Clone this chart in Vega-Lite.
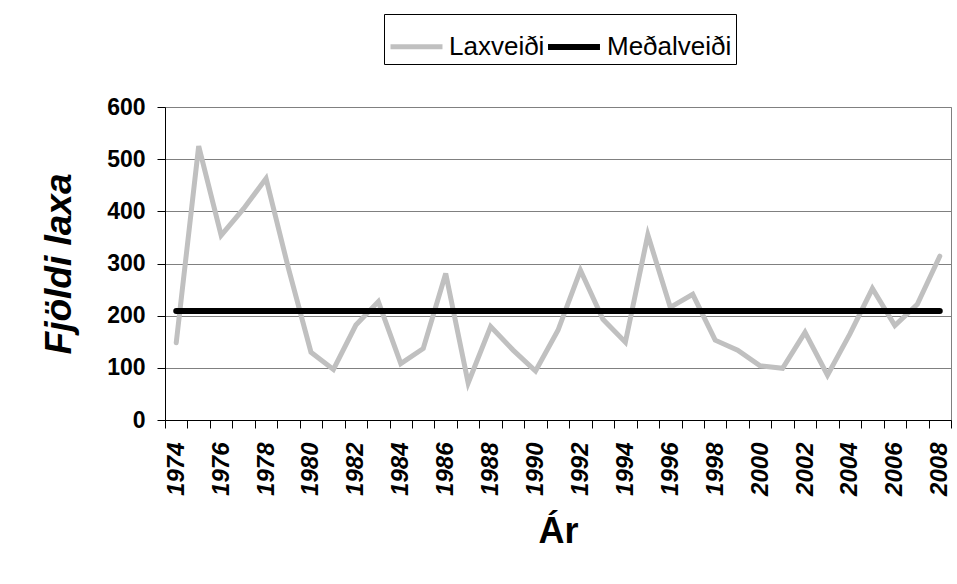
{
  "$schema": "https://vega.github.io/schema/vega-lite/v6.json",
  "width": 786,
  "height": 313,
  "autosize": "none",
  "padding": {"left": 165, "top": 107, "right": 6, "bottom": 164},
  "background": "white",
  "config": {
    "font": "Liberation Sans",
    "view": {"stroke": "#808080", "strokeWidth": 1}
  },
  "data": {
    "values": [
      {"year": 1974, "series": "Laxveiði", "value": 148},
      {"year": 1975, "series": "Laxveiði", "value": 525},
      {"year": 1976, "series": "Laxveiði", "value": 354},
      {"year": 1977, "series": "Laxveiði", "value": 405},
      {"year": 1978, "series": "Laxveiði", "value": 463},
      {"year": 1979, "series": "Laxveiði", "value": 290},
      {"year": 1980, "series": "Laxveiði", "value": 130},
      {"year": 1981, "series": "Laxveiði", "value": 97},
      {"year": 1982, "series": "Laxveiði", "value": 182},
      {"year": 1983, "series": "Laxveiði", "value": 227},
      {"year": 1984, "series": "Laxveiði", "value": 108},
      {"year": 1985, "series": "Laxveiði", "value": 137},
      {"year": 1986, "series": "Laxveiði", "value": 281},
      {"year": 1987, "series": "Laxveiði", "value": 71},
      {"year": 1988, "series": "Laxveiði", "value": 179},
      {"year": 1989, "series": "Laxveiði", "value": 134},
      {"year": 1990, "series": "Laxveiði", "value": 94},
      {"year": 1991, "series": "Laxveiði", "value": 172},
      {"year": 1992, "series": "Laxveiði", "value": 287},
      {"year": 1993, "series": "Laxveiði", "value": 193},
      {"year": 1994, "series": "Laxveiði", "value": 149},
      {"year": 1995, "series": "Laxveiði", "value": 355},
      {"year": 1996, "series": "Laxveiði", "value": 216},
      {"year": 1997, "series": "Laxveiði", "value": 241},
      {"year": 1998, "series": "Laxveiði", "value": 153},
      {"year": 1999, "series": "Laxveiði", "value": 134},
      {"year": 2000, "series": "Laxveiði", "value": 104},
      {"year": 2001, "series": "Laxveiði", "value": 99},
      {"year": 2002, "series": "Laxveiði", "value": 168},
      {"year": 2003, "series": "Laxveiði", "value": 86},
      {"year": 2004, "series": "Laxveiði", "value": 165},
      {"year": 2005, "series": "Laxveiði", "value": 252},
      {"year": 2006, "series": "Laxveiði", "value": 181},
      {"year": 2007, "series": "Laxveiði", "value": 222},
      {"year": 2008, "series": "Laxveiði", "value": 314},
      {"year": 1974, "series": "Meðalveiði", "value": 209},
      {"year": 1975, "series": "Meðalveiði", "value": 209},
      {"year": 1976, "series": "Meðalveiði", "value": 209},
      {"year": 1977, "series": "Meðalveiði", "value": 209},
      {"year": 1978, "series": "Meðalveiði", "value": 209},
      {"year": 1979, "series": "Meðalveiði", "value": 209},
      {"year": 1980, "series": "Meðalveiði", "value": 209},
      {"year": 1981, "series": "Meðalveiði", "value": 209},
      {"year": 1982, "series": "Meðalveiði", "value": 209},
      {"year": 1983, "series": "Meðalveiði", "value": 209},
      {"year": 1984, "series": "Meðalveiði", "value": 209},
      {"year": 1985, "series": "Meðalveiði", "value": 209},
      {"year": 1986, "series": "Meðalveiði", "value": 209},
      {"year": 1987, "series": "Meðalveiði", "value": 209},
      {"year": 1988, "series": "Meðalveiði", "value": 209},
      {"year": 1989, "series": "Meðalveiði", "value": 209},
      {"year": 1990, "series": "Meðalveiði", "value": 209},
      {"year": 1991, "series": "Meðalveiði", "value": 209},
      {"year": 1992, "series": "Meðalveiði", "value": 209},
      {"year": 1993, "series": "Meðalveiði", "value": 209},
      {"year": 1994, "series": "Meðalveiði", "value": 209},
      {"year": 1995, "series": "Meðalveiði", "value": 209},
      {"year": 1996, "series": "Meðalveiði", "value": 209},
      {"year": 1997, "series": "Meðalveiði", "value": 209},
      {"year": 1998, "series": "Meðalveiði", "value": 209},
      {"year": 1999, "series": "Meðalveiði", "value": 209},
      {"year": 2000, "series": "Meðalveiði", "value": 209},
      {"year": 2001, "series": "Meðalveiði", "value": 209},
      {"year": 2002, "series": "Meðalveiði", "value": 209},
      {"year": 2003, "series": "Meðalveiði", "value": 209},
      {"year": 2004, "series": "Meðalveiði", "value": 209},
      {"year": 2005, "series": "Meðalveiði", "value": 209},
      {"year": 2006, "series": "Meðalveiði", "value": 209},
      {"year": 2007, "series": "Meðalveiði", "value": 209},
      {"year": 2008, "series": "Meðalveiði", "value": 209}
    ]
  },
  "mark": {"type": "line", "strokeCap": "round", "strokeJoin": "miter", "clip": false},
  "encoding": {
    "x": {
      "field": "year",
      "type": "quantitative",
      "scale": {"domain": [1973.5, 2008.5], "nice": false, "zero": false},
      "axis": {
        "title": "Ár",
        "titleFont": "Liberation Sans",
        "titleFontSize": 36,
        "titleFontWeight": "bold",
        "titleColor": "black",
        "titlePadding": 19,
        "values": [1973.5, 1974.5, 1975.5, 1976.5, 1977.5, 1978.5, 1979.5, 1980.5, 1981.5, 1982.5, 1983.5, 1984.5, 1985.5, 1986.5, 1987.5, 1988.5, 1989.5, 1990.5, 1991.5, 1992.5, 1993.5, 1994.5, 1995.5, 1996.5, 1997.5, 1998.5, 1999.5, 2000.5, 2001.5, 2002.5, 2003.5, 2004.5, 2005.5, 2006.5, 2007.5, 2008.5],
        "labelExpr": "(datum.value + 0.5) % 2 == 0 ? format(datum.value + 0.5, 'd') : ''",
        "labelOffset": 11.2,
        "labelAngle": -90,
        "labelAlign": "right",
        "labelBaseline": "middle",
        "labelFontSize": 24,
        "labelFontWeight": "bold",
        "labelFontStyle": "italic",
        "labelColor": "black",
        "labelPadding": 14,
        "labelOverlap": false,
        "labelFlush": false,
        "labelBound": false,
        "tickSize": 8,
        "tickColor": "black",
        "domainColor": "black",
        "grid": false
      }
    },
    "y": {
      "field": "value",
      "type": "quantitative",
      "scale": {"domain": [0, 600], "nice": false},
      "axis": {
        "title": "Fjöldi laxa",
        "titleFontSize": 37,
        "titleFontWeight": "bold",
        "titleFontStyle": "italic",
        "titleColor": "black",
        "titlePadding": 28,
        "values": [0, 100, 200, 300, 400, 500, 600],
        "labelFontSize": 23,
        "labelFontWeight": "bold",
        "labelColor": "black",
        "labelPadding": 12,
        "tickSize": 8,
        "tickColor": "black",
        "domainColor": "black",
        "grid": true,
        "gridColor": "#808080",
        "gridWidth": 1,
        "gridOpacity": 1
      }
    },
    "color": {
      "field": "series",
      "type": "nominal",
      "scale": {"domain": ["Laxveiði", "Meðalveiði"], "range": ["#c0c0c0", "#000000"]},
      "legend": {
        "title": null,
        "orient": "none",
        "direction": "horizontal",
        "legendX": 219,
        "legendY": -93,
        "strokeColor": "black",
        "padding": 4,
        "symbolType": "stroke",
        "symbolSize": 2700,
        "symbolStrokeWidth": 5,
        "labelFontSize": 26,
        "labelColor": "black",
        "labelOffset": 4,
        "columnPadding": -12
      }
    },
    "strokeWidth": {
      "field": "series",
      "type": "nominal",
      "scale": {"domain": ["Laxveiði", "Meðalveiði"], "range": [5, 6]},
      "legend": null
    }
  }
}
